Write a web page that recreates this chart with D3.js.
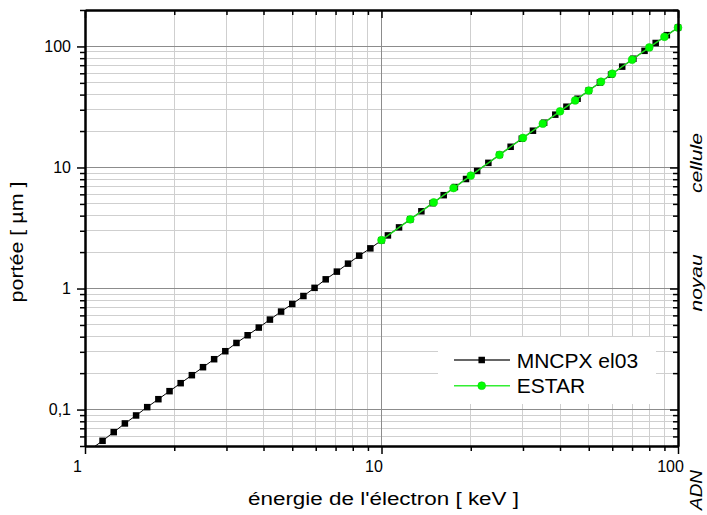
<!DOCTYPE html>
<html>
<head>
<meta charset="utf-8">
<script src="https://cdn.jsdelivr.net/npm/d3@7"></script>
<style>
  html, body { margin: 0; padding: 0; background: #fff; }
  svg { display: block; font-family: "Liberation Sans", Arial, sans-serif; }
</style>
</head>
<body>
<svg id="chart" width="707" height="515"></svg>
<script>
// ---- data ----
const mcnpxEnergy = [1.051, 1.146, 1.250, 1.363, 1.487, 1.621, 1.768, 1.928, 2.102, 2.293,
  2.500, 2.726, 2.973, 3.242, 3.536, 3.856, 4.204, 4.585, 5.000, 5.453,
  5.946, 6.484, 7.071, 7.711, 8.409, 9.170, 10.00,
  10.51, 11.46, 12.50, 13.63, 14.87, 16.21, 17.68, 19.28, 21.02, 22.93,
  25.00, 27.26, 29.73, 32.42, 35.36, 38.56, 42.04, 45.85, 50.00, 54.53,
  59.46, 64.84, 70.71, 77.11, 84.09, 91.70, 100.0];
const mcnpxRange = [0.0474, 0.0552, 0.0651, 0.0768, 0.0894, 0.1047, 0.1218, 0.1419, 0.1652, 0.1923,
  0.2239, 0.2606, 0.3034, 0.3550, 0.4111, 0.4758, 0.5538, 0.6449, 0.7451, 0.8671,
  1.013, 1.191, 1.379, 1.605, 1.868, 2.147, 2.50,
  2.746, 3.199, 3.728, 4.345, 5.07, 5.905, 6.89, 8.03, 9.36, 10.92,
  12.72, 14.83, 17.29, 20.13, 23.44, 27.31, 31.77, 37.0, 43.2, 50.3,
  58.55, 68.1, 79.15, 92.0, 106.8, 123.9, 143.1];
const estarEnergy = [10, 12.5, 15, 17.5, 20, 25, 30, 35, 40, 45, 50, 55, 60, 70, 80, 90, 100];
const estarRange = [2.515, 3.728, 5.147, 6.762, 8.566, 12.72, 17.56, 23.03, 29.12, 35.78,
  43.20, 51.09, 59.49, 77.79, 98.07, 120.1, 143.1];

const xMajorTicks = [1, 10, 100];
const xMajorLabels = ["1", "10", "100"];
const yMajorTicks = [0.1, 1, 10, 100];
const yMajorLabels = ["0,1", "1", "10", "100"];
const xMinorTicks = [2, 3, 4, 5, 6, 7, 8, 9, 20, 30, 40, 50, 60, 70, 80, 90];
const yMinorTicks = [0.05, 0.06, 0.07, 0.08, 0.09, 0.2, 0.3, 0.4, 0.5, 0.6, 0.7, 0.8, 0.9,
  2, 3, 4, 5, 6, 7, 8, 9, 20, 30, 40, 50, 60, 70, 80, 90, 200];
const seriesNames = ["MNCPX el03", "ESTAR"];
const xTitle = "énergie de l'électron  [ keV ]";
const yTitle = "portée [ µm ]";
const sideLabels = ["cellule", "noyau", "ADN"];

// ---- layout ----
const L = 85, R = 678, T = 10, B = 446;
const svg = d3.select("#chart");
const x = d3.scaleLog().domain([1, 100]).range([L, R]);
const y = d3.scaleLog().domain([0.05, 200]).range([B, T]);

svg.append("defs").append("clipPath").attr("id", "plotClip")
  .append("rect").attr("x", L).attr("y", T).attr("width", R - L).attr("height", B - T);

// grid
const grid = svg.append("g").attr("shape-rendering", "crispEdges");
grid.selectAll("line.vmin").data(xMinorTicks).join("line")
  .attr("x1", d => x(d)).attr("x2", d => x(d)).attr("y1", T).attr("y2", B)
  .attr("stroke", "#cfcfcf").attr("stroke-width", 1);
grid.selectAll("line.hmin").data(yMinorTicks).join("line")
  .attr("y1", d => y(d)).attr("y2", d => y(d)).attr("x1", L).attr("x2", R)
  .attr("stroke", "#cfcfcf").attr("stroke-width", 1);
grid.selectAll("line.vmaj").data(xMajorTicks).join("line")
  .attr("x1", d => x(d)).attr("x2", d => x(d)).attr("y1", T).attr("y2", B)
  .attr("stroke", "#8c8c8c").attr("stroke-width", 1);
grid.selectAll("line.hmaj").data(yMajorTicks).join("line")
  .attr("y1", d => y(d)).attr("y2", d => y(d)).attr("x1", L).attr("x2", R)
  .attr("stroke", "#8c8c8c").attr("stroke-width", 1);

// legend background (covers grid)
const lg = svg.append("g");
lg.append("rect").attr("x", 438).attr("y", 337).attr("width", 218).attr("height", 67).attr("fill", "#fff");

// data
const mcnpx = mcnpxEnergy.map((e, i) => ({e, r: mcnpxRange[i]}));
const estar = estarEnergy.map((e, i) => ({e, r: estarRange[i]}));
const line = d3.line().x(d => x(d.e)).y(d => y(d.r));
const dataG = svg.append("g");
dataG.append("path").datum(mcnpx).attr("d", line).attr("fill", "none")
  .attr("stroke", "#000").attr("stroke-width", 1).attr("clip-path", "url(#plotClip)");
const sq = 6.5;
dataG.selectAll("rect.m").data(mcnpx.filter(d => d.r >= 0.05)).join("rect")
  .attr("x", d => x(d.e) - sq / 2).attr("y", d => y(d.r) - sq / 2)
  .attr("width", sq).attr("height", sq).attr("fill", "#000");
dataG.append("path").datum(estar).attr("d", line).attr("fill", "none")
  .attr("stroke", "#1ed21e").attr("stroke-width", 1.5);
dataG.selectAll("circle.e").data(estar).join("circle")
  .attr("cx", d => x(d.e)).attr("cy", d => y(d.r)).attr("r", 3.9)
  .attr("fill", "#00ff00").attr("stroke", "#10d010").attr("stroke-width", 0.6);

// axes
function styleAxis(g) {
  g.select(".domain").attr("stroke", "#000").attr("stroke-width", 2);
  g.selectAll(".tick line").attr("stroke", "#000").attr("stroke-width", 1.5);
  g.selectAll("text").attr("font-size", 16).attr("fill", "#000")
    .attr("font-family", "'Liberation Sans', Arial, sans-serif");
}
// left
svg.append("g").attr("transform", `translate(${L},0)`)
  .call(d3.axisLeft(y).tickValues(yMinorTicks).tickSize(5).tickSizeOuter(0).tickFormat(""))
  .call(styleAxis);
svg.append("g").attr("transform", `translate(${L},0)`)
  .call(d3.axisLeft(y).tickValues(yMajorTicks).tickSize(8).tickSizeOuter(0).tickPadding(6)
    .tickFormat((d, i) => yMajorLabels[i]))
  .call(styleAxis);
// right (inward)
svg.append("g").attr("transform", `translate(${R},0)`)
  .call(d3.axisRight(y).tickValues(yMinorTicks).tickSize(-5).tickSizeOuter(0).tickFormat(""))
  .call(styleAxis);
svg.append("g").attr("transform", `translate(${R},0)`)
  .call(d3.axisRight(y).tickValues(yMajorTicks).tickSize(-8).tickSizeOuter(0).tickFormat(""))
  .call(styleAxis);
// bottom
svg.append("g").attr("transform", `translate(0,${B})`)
  .call(d3.axisBottom(x).tickValues(xMinorTicks).tickSize(5).tickSizeOuter(0).tickFormat(""))
  .call(styleAxis);
const bAx = svg.append("g").attr("transform", `translate(0,${B})`)
  .call(d3.axisBottom(x).tickValues(xMajorTicks).tickSize(8).tickSizeOuter(0).tickPadding(7)
    .tickFormat((d, i) => xMajorLabels[i]))
  .call(styleAxis);
bAx.selectAll("text").attr("dx", -8);
// top (inward)
svg.append("g").attr("transform", `translate(0,${T})`)
  .call(d3.axisTop(x).tickValues(xMinorTicks).tickSize(-5).tickSizeOuter(0).tickFormat(""))
  .call(styleAxis);
svg.append("g").attr("transform", `translate(0,${T})`)
  .call(d3.axisTop(x).tickValues(xMajorTicks).tickSize(-8).tickSizeOuter(0).tickFormat(""))
  .call(styleAxis);

// titles
svg.append("text").attr("x", 383.5).attr("y", 505).attr("text-anchor", "middle")
  .attr("font-size", 18).attr("textLength", 271).attr("lengthAdjust", "spacingAndGlyphs")
  .text(xTitle);
svg.append("text").attr("transform", "translate(23,242) rotate(-90)").attr("text-anchor", "middle")
  .attr("font-size", 18).attr("textLength", 121).attr("lengthAdjust", "spacingAndGlyphs")
  .text(yTitle);

// side labels
const sidePos = [{cy: 163, len: 60}, {cy: 283, len: 57}, {cy: 490, len: 40}];
sideLabels.forEach((t, i) => {
  svg.append("text").attr("transform", `translate(702,${sidePos[i].cy}) rotate(-90)`)
    .attr("text-anchor", "middle").attr("font-size", 16).attr("font-style", "italic")
    .attr("textLength", sidePos[i].len).attr("lengthAdjust", "spacingAndGlyphs")
    .text(t);
});

// legend
const legY = [360, 385.7];
lg.append("line").attr("x1", 454).attr("x2", 510).attr("y1", legY[0]).attr("y2", legY[0])
  .attr("stroke", "#333").attr("stroke-width", 1.3);
lg.append("rect").attr("x", 481.7 - sq / 2).attr("y", legY[0] - sq / 2).attr("width", sq).attr("height", sq).attr("fill", "#000");
lg.append("line").attr("x1", 454).attr("x2", 510).attr("y1", legY[1]).attr("y2", legY[1])
  .attr("stroke", "#33ee33").attr("stroke-width", 1.5);
lg.append("circle").attr("cx", 481.7).attr("cy", legY[1]).attr("r", 3.9)
  .attr("fill", "#00ff00").attr("stroke", "#10d010").attr("stroke-width", 0.6);
seriesNames.forEach((n, i) => {
  lg.append("text").attr("x", 516.7).attr("y", legY[i] + 7.5).attr("font-size", 21).text(n);
});
</script>
</body>
</html>
